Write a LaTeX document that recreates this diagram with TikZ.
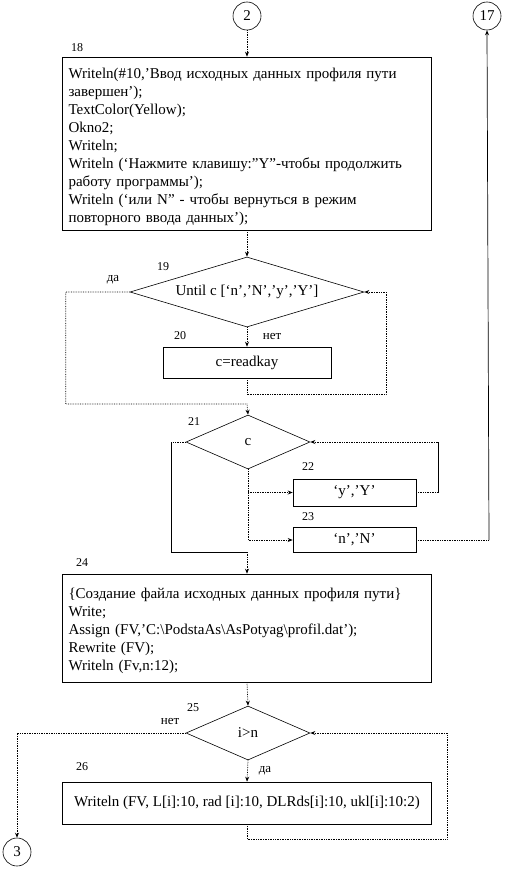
\documentclass[tikz,border=0pt]{standalone}
\usepackage{fontspec}
\setmainfont{Liberation Serif}
\usetikzlibrary{arrows.meta,shapes.geometric}
\begin{document}
\begin{tikzpicture}[x=1pt,y=-1pt,
  txt/.style={font=\fontsize{15}{18}\selectfont},
  box/.style={draw,line width=0.6pt,inner sep=0pt,txt},
  bigbox/.style={box,inner xsep=6pt,text width=357pt,minimum height=#1,align=left},
  dia/.style={draw,diamond,line width=0.6pt,inner sep=0pt,txt},
  circ/.style={draw,circle,line width=0.6pt,minimum size=28pt,inner sep=0pt,txt},
  conn/.style={densely dotted,line width=0.7pt},
  solidline/.style={line width=0.7pt},
  tip/.style={-{Stealth[length=5pt,width=4pt]}},
  num/.style={font=\fontsize{12}{14}\selectfont,inner sep=0pt},
  lab/.style={font=\fontsize{13}{15}\selectfont,inner sep=0pt}]
\useasboundingbox (0,0) rectangle (507,870);

% connectors circles
\node[circ] (c2) at (247,16) {2};
\node[circ] (c17) at (487,16) {17};
\node[circ] (c3) at (17,852) {3};

% block 18
\node[bigbox=173pt] (b18) at (247,143.5) {\rule{0pt}{17pt}Writeln(\#10,’Ввод исходных данных профиля пути\\
завершен’);\\
TextColor(Yellow);\\
Okno2;\\
Writeln;\\
Writeln (‘Нажмите клавишу:”Y”-чтобы продолжить\\
работу программы’);\\
Writeln (‘или N” - чтобы вернуться в режим\\
повторного ввода данных’);};
\node[num] (n18) at (77,48) {18};

% diamond 19
\node[dia,minimum width=234pt,minimum height=70pt,aspect=3.3] (d19) at (247,292) {Until c [‘n’,’N’,’y’,’Y’]};
\node[num] (n19) at (163,267) {19};
\node[lab] (l19a) at (113,280) {да};
\node[lab] (l19b) at (272,336) {нет};

% box 20
\node[box,minimum width=168pt,minimum height=31pt] (b20) at (247,362.5) {c=readkay};
\node[num] (n20) at (180,336) {20};

% diamond 21
\node[dia,minimum width=124pt,minimum height=54pt,aspect=2.3] (d21) at (248,442) {c};
\node[num] (n21) at (194,422) {21};

% boxes 22, 23
\node[box,minimum width=123pt,minimum height=27pt] (b22) at (354.5,492.5) {‘y’,’Y’};
\node[num] (n22) at (308,467) {22};
\node[box,minimum width=123pt,minimum height=25pt] (b23) at (354.5,540) {‘n’,’N’};
\node[num] (n23) at (308,517) {23};

% block 24
\node[bigbox=108pt] (b24) at (247,628) {\rule{0pt}{17pt}\{Создание файла исходных данных профиля пути\}\\
Write;\\
Assign (FV,’C:\textbackslash PodstaAs\textbackslash AsPotyag\textbackslash profil.dat’);\\
Rewrite (FV);\\
Writeln (Fv,n:12);};
\node[num] (n24) at (82,563) {24};

% diamond 25
\node[dia,minimum width=124pt,minimum height=54pt,aspect=2.3] (d25) at (248,733) {i>n};
\node[num] (n25) at (193,708) {25};
\node[lab] (l25a) at (170,721) {нет};
\node[lab] (l25b) at (265,771) {да};

% box 26
\node[box,minimum width=369pt,minimum height=42pt] (b26) at (247,803) {Writeln (FV, L[i]:10, rad [i]:10, DLRds[i]:10, ukl[i]:10:2)};
\node[num] (n26) at (82,767) {26};

% junction coordinates
\coordinate (j1) at (247,404);
\coordinate (j2) at (247,552);
\coordinate (j3) at (386,292);
\coordinate (k1) at (171,442);
\coordinate (k2) at (438,492.5);
\coordinate (k3) at (489,540);
\coordinate (k4) at (447,839);

% flows
\draw[conn,tip] (c2.south) -- (b18.north);
\draw[conn,tip] (b18.south) -- (d19.north);
\draw[conn,tip] (d19.west) -- ++(-64,0) |- (j1) -- (d21.north);
\draw[conn,tip] (d19.south) -- (b20.north);
\draw[conn,tip] (b20.south) -- ++(0,16) -| (j3) -- (d19.east);

\draw[conn] (d21.west) -- (k1);
\draw[solidline] (k1) |- (j2);
\draw[conn,tip] (j2) -- (b24.north);

\draw[conn,tip] (d21.south) |- (b23.west);
\draw[conn,tip] (d21.south |- b22.west) -- (b22.west);
\draw[conn] (b22.east) -- (k2);
\draw[solidline] (k2) -- (k2 |- d21.east);
\draw[conn,tip] (k2 |- d21.east) -- (d21.east);
\draw[conn] (b23.east) -- (k3);
\draw[solidline,tip] (k3) -- (c17.south);

\draw[conn,tip] (b24.south) -- (d25.north);
\draw[conn,tip] (d25.west) -| (c3.north);
\draw[conn,tip] (d25.south) -- (b26.north);
\draw[conn,tip] (b26.south) |- (k4) |- (d25.east);
\end{tikzpicture}
\end{document}
